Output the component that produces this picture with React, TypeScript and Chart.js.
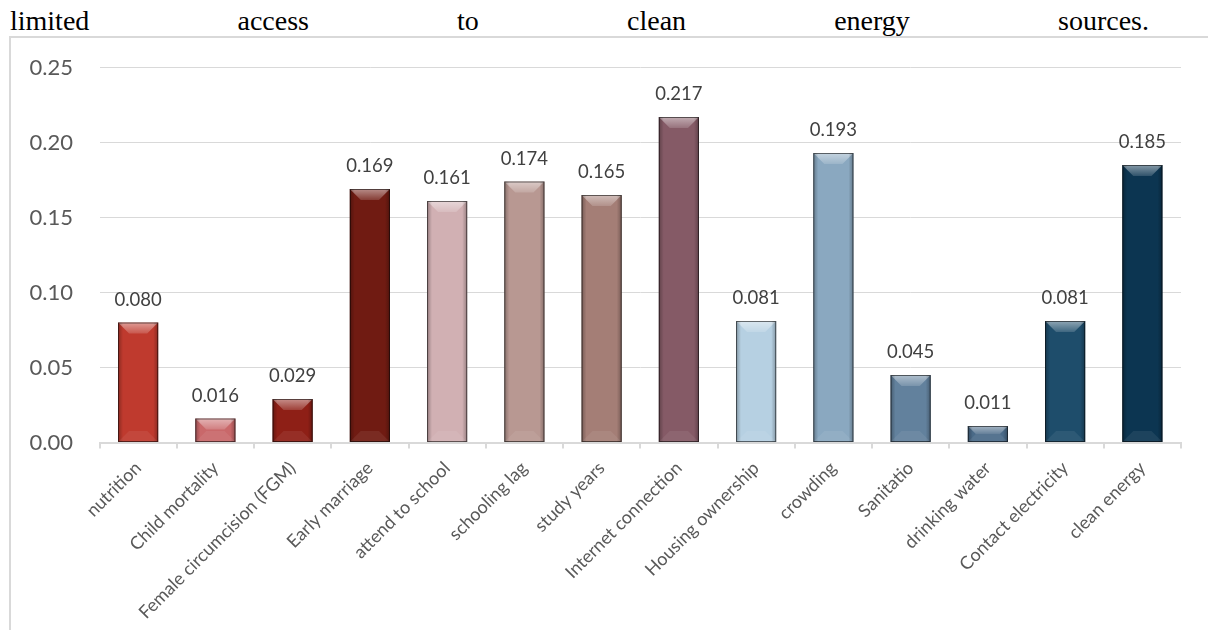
import React, { useEffect, useRef } from "react";
import { Chart, registerables } from "chart.js";

Chart.register(...registerables);

const headingWords = ["limited", "access", "to", "clean", "energy", "sources."];

const categories = [
  "nutrition",
  "Child mortality",
  "Female circumcision (FGM)",
  "Early marriage",
  "attend to school",
  "schooling lag",
  "study years",
  "Internet connection",
  "Housing ownership",
  "crowding",
  "Sanitatio",
  "drinking water",
  "Contact electricity",
  "clean energy",
];

const weights = [
  0.08, 0.016, 0.029, 0.169, 0.161, 0.174, 0.165, 0.217, 0.081, 0.193, 0.045,
  0.011, 0.081, 0.185,
];

const barColors = [
  "#BF3A2E",
  "#C9686A",
  "#8E1F16",
  "#701B12",
  "#D1B0B3",
  "#B89892",
  "#A47E76",
  "#855A66",
  "#B6D0E2",
  "#8AA8C0",
  "#62819D",
  "#4A6A88",
  "#1E4D6B",
  "#0C3551",
];

const yMin = 0;
const yMax = 0.25;
const yStep = 0.05;

// Bevelled look for each bar plus the value printed above it.
const bevelAndLabels = {
  id: "bevelAndLabels",
  afterDatasetsDraw(chart: any) {
    const ctx = chart.ctx as CanvasRenderingContext2D;
    const meta = chart.getDatasetMeta(0);
    const data = chart.data.datasets[0].data as number[];
    meta.data.forEach((el: any, i: number) => {
      const { x, y, base, width } = el.getProps(["x", "y", "base", "width"], true);
      const left = x - width / 2;
      const right = x + width / 2;
      const top = Math.min(y, base);
      const bottom = Math.max(y, base);
      const h = bottom - top;
      const d = Math.min(11, h / 2);

      ctx.save();
      // top bevel highlight
      let g = ctx.createLinearGradient(0, top, 0, top + d);
      g.addColorStop(0, "rgba(255,255,255,0.5)");
      g.addColorStop(1, "rgba(255,255,255,0.15)");
      ctx.fillStyle = g;
      ctx.beginPath();
      ctx.moveTo(left, top);
      ctx.lineTo(right, top);
      ctx.lineTo(right - d, top + d);
      ctx.lineTo(left + d, top + d);
      ctx.closePath();
      ctx.fill();

      // side shading
      g = ctx.createLinearGradient(left, 0, left + 5, 0);
      g.addColorStop(0, "rgba(0,0,0,0.28)");
      g.addColorStop(1, "rgba(0,0,0,0)");
      ctx.fillStyle = g;
      ctx.fillRect(left, top, 5, h);
      g = ctx.createLinearGradient(right, 0, right - 5, 0);
      g.addColorStop(0, "rgba(0,0,0,0.28)");
      g.addColorStop(1, "rgba(0,0,0,0)");
      ctx.fillStyle = g;
      ctx.fillRect(right - 5, top, 5, h);

      // faint bottom bevel
      ctx.fillStyle = "rgba(255,255,255,0.07)";
      ctx.beginPath();
      ctx.moveTo(left, bottom);
      ctx.lineTo(right, bottom);
      ctx.lineTo(right - d, bottom - d);
      ctx.lineTo(left + d, bottom - d);
      ctx.closePath();
      ctx.fill();

      // outline
      ctx.strokeStyle = "rgba(0,0,0,0.55)";
      ctx.lineWidth = 1;
      ctx.strokeRect(left + 0.5, top + 0.5, width - 1, h - 1);
      ctx.restore();

      // value label
      ctx.save();
      ctx.font = "18.5px Lato";
      ctx.fillStyle = "#404040";
      ctx.textAlign = "center";
      ctx.textBaseline = "alphabetic";
      ctx.fillText(data[i].toFixed(3), x, top - 17);
      ctx.restore();
    });
  },
};

export default function App() {
  const canvasRef = useRef<HTMLCanvasElement | null>(null);

  useEffect(() => {
    const canvas = canvasRef.current;
    if (!canvas) return;
    const chart = new Chart(canvas, {
      type: "bar",
      data: {
        labels: categories,
        datasets: [
          {
            data: weights,
            backgroundColor: barColors,
            borderWidth: 0,
            barPercentage: 0.52,
            categoryPercentage: 1,
          },
        ],
      },
      options: {
        responsive: false,
        animation: false,
        devicePixelRatio: 1,
        layout: { padding: { top: 67.5, right: 27, left: 0, bottom: 0 } },
        plugins: {
          legend: { display: false },
          tooltip: { enabled: false },
        },
        scales: {
          x: {
            grid: {
              display: true,
              drawOnChartArea: false,
              drawTicks: true,
              tickLength: 6,
              color: "#D9D9D9",
              lineWidth: 2,
              offset: true,
            },
            border: { display: true, color: "#D9D9D9", width: 2 },
            ticks: {
              autoSkip: false,
              minRotation: 45,
              maxRotation: 45,
              padding: 9,
              color: "#595959",
              font: { family: "Lato", size: 18 },
            },
            afterFit: (s: any) => {
              s.height = 187.5;
            },
          },
          y: {
            min: yMin,
            max: yMax,
            grid: {
              color: "#D9D9D9",
              lineWidth: 1,
              drawTicks: false,
            },
            border: { display: false },
            ticks: {
              stepSize: yStep,
              padding: 26.5,
              color: "#595959",
              font: { family: "Lato", size: 22 },
              callback: (v: any) => Number(v).toFixed(2),
            },
            afterFit: (s: any) => {
              s.width = 99.5;
            },
          },
        },
      },
      plugins: [bevelAndLabels],
    });
    return () => chart.destroy();
  }, []);

  return (
    <div
      style={{
        position: "fixed",
        left: 0,
        top: 0,
        width: 1208,
        height: 630,
        overflow: "hidden",
        background: "#fff",
      }}
    >
      <div
        style={{
          position: "absolute",
          left: 10,
          right: 59,
          top: 7,
          display: "flex",
          justifyContent: "space-between",
          fontFamily: "'Liberation Serif', 'Times New Roman', serif",
          fontSize: 28,
          lineHeight: "28px",
          color: "#000",
          whiteSpace: "nowrap",
        }}
      >
        {headingWords.map((w) => (
          <span key={w}>{w}</span>
        ))}
      </div>
      <div
        style={{
          position: "absolute",
          left: 9,
          top: 36,
          width: 1300,
          height: 700,
          border: "2px solid #D9D9D9",
          boxSizing: "border-box",
        }}
      />
      <canvas
        ref={canvasRef}
        width={1208}
        height={630}
        style={{ position: "absolute", left: 0, top: 0, width: 1208, height: 630 }}
      />
    </div>
  );
}
